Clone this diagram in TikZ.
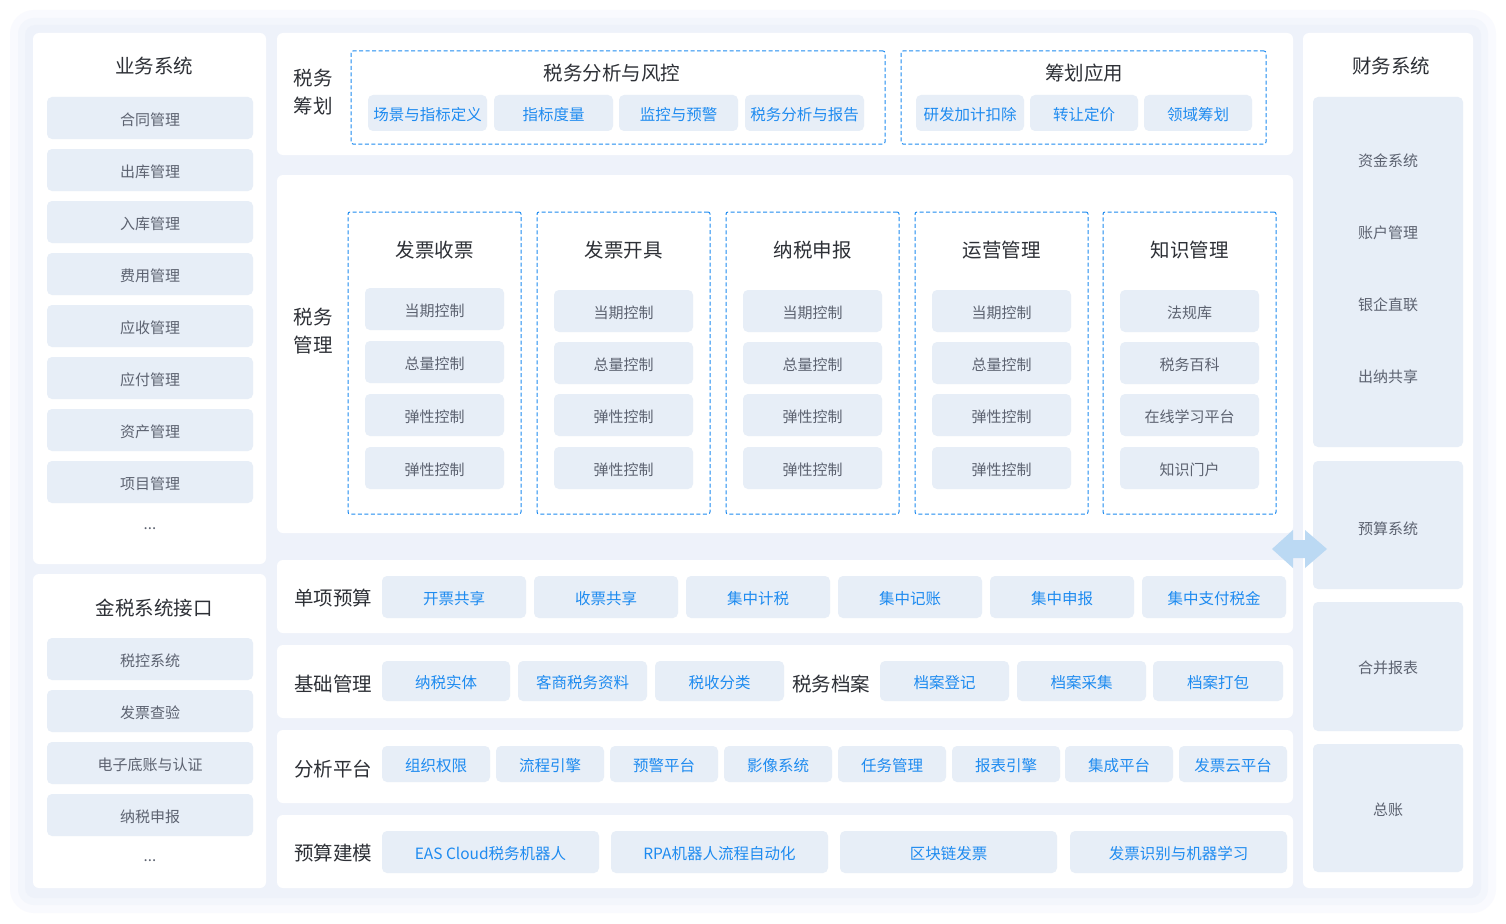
\documentclass[tikz,border=0pt]{standalone}
\usepackage{fontspec}
\setmainfont{Noto Sans CJK SC}
\definecolor{darkc}{HTML}{2D3036}
\definecolor{greyc}{HTML}{5C6270}
\definecolor{bluec}{HTML}{1E8BF0}
\definecolor{itemc}{HTML}{E7EEF7}
\definecolor{dashc}{HTML}{1E8BF0}
\definecolor{arrowc}{HTML}{BBD9F3}
\definecolor{bgc}{HTML}{EEF2FA}
\definecolor{bgm}{HTML}{F3F6FC}
\definecolor{bgo}{HTML}{F9FAFE}
\newcommand\mkbox[7]{%
  \pgfmathsetmacro\bxw{#5-#3}\pgfmathsetmacro\bxh{#6-#4}%
  \pgfmathsetmacro\bxc{(#3+#5)/2}\pgfmathsetmacro\bxm{(#4+#6)/2}%
  \node[#2, minimum width=\bxw pt, minimum height=\bxh pt] (#1) at (\bxc,\bxm) {};
  \node[#2, fill=none, draw=none, yshift=-1.8pt] (#1t) at (\bxc,\bxm) {#7};}
\begin{document}
\begin{tikzpicture}[x=1pt,y=-1pt,
  panel/.style={fill=white, rounded corners=6pt, inner sep=0pt, draw=none},
  itemg/.style={fill=itemc, rounded corners=5pt, inner sep=0pt, text=greyc, font=\fontsize{15}{18}\selectfont},
  itemb/.style={fill=itemc, rounded corners=5pt, inner sep=0pt, text=bluec, font=\fontsize{15.5}{18}\selectfont},
  plaing/.style={inner sep=0pt, text=greyc, yshift=-1.5pt, font=\fontsize{15}{18}\selectfont},
  dbox/.style={draw=dashc, line width=1pt, dash pattern=on 4pt off 2.5pt, rounded corners=2pt, inner sep=0pt},
  ttl/.style={inner sep=0pt, text=darkc, yshift=-1pt, font=\fontsize{19.5}{28}\selectfont, align=center}]
\useasboundingbox (0,0) rectangle (1506,923);
\fill[white] (0,0) rectangle (1506,923);
\fill[bgo, rounded corners=24pt] (10,10) rectangle (1496,913);
\fill[bgm, rounded corners=16pt] (18,18) rectangle (1488,905);
\fill[bgc, rounded corners=10pt] (25,25) rectangle (1481,898);
% panels
\mkbox{P1}{panel}{33}{33}{266}{564}{}
\mkbox{P2}{panel}{33}{574}{266}{888}{}
\mkbox{P3}{panel}{277}{33}{1293}{155}{}
\mkbox{P4}{panel}{277}{175}{1293}{533}{}
\mkbox{P5}{panel}{277}{560}{1293}{633}{}
\mkbox{P6}{panel}{277}{645}{1293}{718}{}
\mkbox{P7}{panel}{277}{730}{1293}{803}{}
\mkbox{P8}{panel}{277}{815}{1293}{888}{}
\mkbox{P9}{panel}{1303}{33}{1473}{888}{}
% left panel 1
\node[ttl] (T1) at (154,65) {业务系统};
\foreach \t [count=\i from 0] in {合同管理,出库管理,入库管理,费用管理,应收管理,应付管理,资产管理,项目管理}{
  \pgfmathsetmacro\ya{97+52*\i}\pgfmathsetmacro\yb{139+52*\i}
  \mkbox{L\i}{itemg}{47}{\ya}{253}{\yb}{\t}}
\node[plaing] (Ld1) at (150,527) {...};
% left panel 2
\node[ttl] (T2) at (154,607) {金税系统接口};
\foreach \t [count=\i from 0] in {税控系统,发票查验,电子底账与认证,纳税申报}{
  \pgfmathsetmacro\ya{638+52*\i}\pgfmathsetmacro\yb{680+52*\i}
  \mkbox{G\i}{itemg}{47}{\ya}{253}{\yb}{\t}}
\node[plaing] (Ld2) at (150,859) {...};
% top planning
\node[ttl] (T3) at (313,91) {税务\\筹划};
\mkbox{D1}{dbox}{351}{51}{885}{144}{}
\node[ttl] (D1t) at (612,72) {税务分析与风控};
\mkbox{A1}{itemb}{368}{95}{487}{131}{场景与指标定义}
\mkbox{A2}{itemb}{494}{95}{613}{131}{指标度量}
\mkbox{A3}{itemb}{619}{95}{738}{131}{监控与预警}
\mkbox{A4}{itemb}{745}{95}{864}{131}{税务分析与报告}
\mkbox{D2}{dbox}{901}{51}{1266}{144}{}
\node[ttl] (D2t) at (1084,72) {筹划应用};
\mkbox{B1}{itemb}{916}{95}{1024}{131}{研发加计扣除}
\mkbox{B2}{itemb}{1030}{95}{1138}{131}{转让定价}
\mkbox{B3}{itemb}{1144}{95}{1252}{131}{领域筹划}
% management
\node[ttl] (T4) at (313,330) {税务\\管理};
\foreach \cx/\ti [count=\c] in {348/发票收票,537/发票开具,726/纳税申报,915/运营管理,1103/知识管理}{
  \pgfmathsetmacro\xb{\cx+173}
  \mkbox{C\c}{dbox}{\cx}{212}{\xb}{514}{}
  \pgfmathsetmacro\xm{\cx+86.5}
  \node[ttl] (C\c h) at (\xm,249) {\ti};
}
\foreach \cx [count=\c] in {348,537,726,915}{
  \pgfmathsetmacro\xa{\cx+17}\pgfmathsetmacro\xb{\cx+156}
  \pgfmathsetmacro\off{\c==1 ? 0 : 1}
  \foreach \t/\ya [count=\r] in {当期控制/288,总量控制/341,弹性控制/394,弹性控制/447}{
    \pgfmathsetmacro\yy{\ya+(\r<3 ? \off*(3-\r) : 0)}
    \pgfmathsetmacro\yz{\yy+42}
    \mkbox{C\c i\r}{itemg}{\xa}{\yy}{\xb}{\yz}{\t}}
}
\foreach \t/\ya [count=\r] in {法规库/290,税务百科/342,在线学习平台/394,知识门户/447}{
  \pgfmathsetmacro\yz{\ya+42}
  \mkbox{C5i\r}{itemg}{1120}{\ya}{1259}{\yz}{\t}}
% row 1
\node[ttl] (T5) at (333,597) {单项预算};
\foreach \t [count=\i from 0] in {开票共享,收票共享,集中计税,集中记账,集中申报,集中支付税金}{
  \pgfmathsetmacro\xa{382+152*\i}\pgfmathsetmacro\xb{526+152*\i}
  \mkbox{S\i}{itemb}{\xa}{576}{\xb}{618}{\t}}
% row 2
\node[ttl] (T6) at (333,683) {基础管理};
\mkbox{J1}{itemb}{382}{661}{510}{701}{纳税实体}
\mkbox{J2}{itemb}{518}{661}{647}{701}{客商税务资料}
\mkbox{J3}{itemb}{655}{661}{784}{701}{税收分类}
\node[ttl] (T7) at (831,683) {税务档案};
\mkbox{J4}{itemb}{880}{661}{1009}{701}{档案登记}
\mkbox{J5}{itemb}{1017}{661}{1146}{701}{档案采集}
\mkbox{J6}{itemb}{1153}{661}{1283}{701}{档案打包}
% row 3
\node[ttl] (T8) at (333,768) {分析平台};
\foreach \t/\xa [count=\i] in {组织权限/382,流程引擎/496,预警平台/610,影像系统/724,任务管理/838,报表引擎/952,集成平台/1065,发票云平台/1179}{
  \pgfmathsetmacro\xb{\xa+108}
  \mkbox{F\i}{itemb}{\xa}{746}{\xb}{782}{\t}}
% row 4
\node[ttl] (T9) at (333,852) {预算建模};
\mkbox{M1}{itemb}{382}{831}{599}{873}{EAS Cloud税务机器人}
\mkbox{M2}{itemb}{611}{831}{828}{873}{RPA机器人流程自动化}
\mkbox{M3}{itemb}{840}{831}{1057}{873}{区块链发票}
\mkbox{M4}{itemb}{1070}{831}{1287}{873}{发票识别与机器学习}
% right panel
\node[ttl] (T10) at (1391,65) {财务系统};
\mkbox{R1}{itemg}{1313}{97}{1463}{447}{}
\node[plaing] (R1a) at (1388,159) {资金系统};
\node[plaing] (R1b) at (1388,231) {账户管理};
\node[plaing] (R1c) at (1388,303) {银企直联};
\node[plaing] (R1d) at (1388,375) {出纳共享};
\mkbox{R2}{itemg}{1313}{461}{1463}{589}{}
\node[plaing] (R2a) at (1388,527) {预算系统};
\mkbox{R3}{itemg}{1313}{602}{1463}{731}{合并报表}
\mkbox{R4}{itemg}{1313}{744}{1463}{872}{总账}
% double arrow
\fill[arrowc] (1272,549) -- (1293,530) -- (1293,540) -- (1305,540) -- (1305,530) -- (1327,549) -- (1305,568) -- (1305,558) -- (1293,558) -- (1293,568) -- cycle;
\end{tikzpicture}
\end{document}
